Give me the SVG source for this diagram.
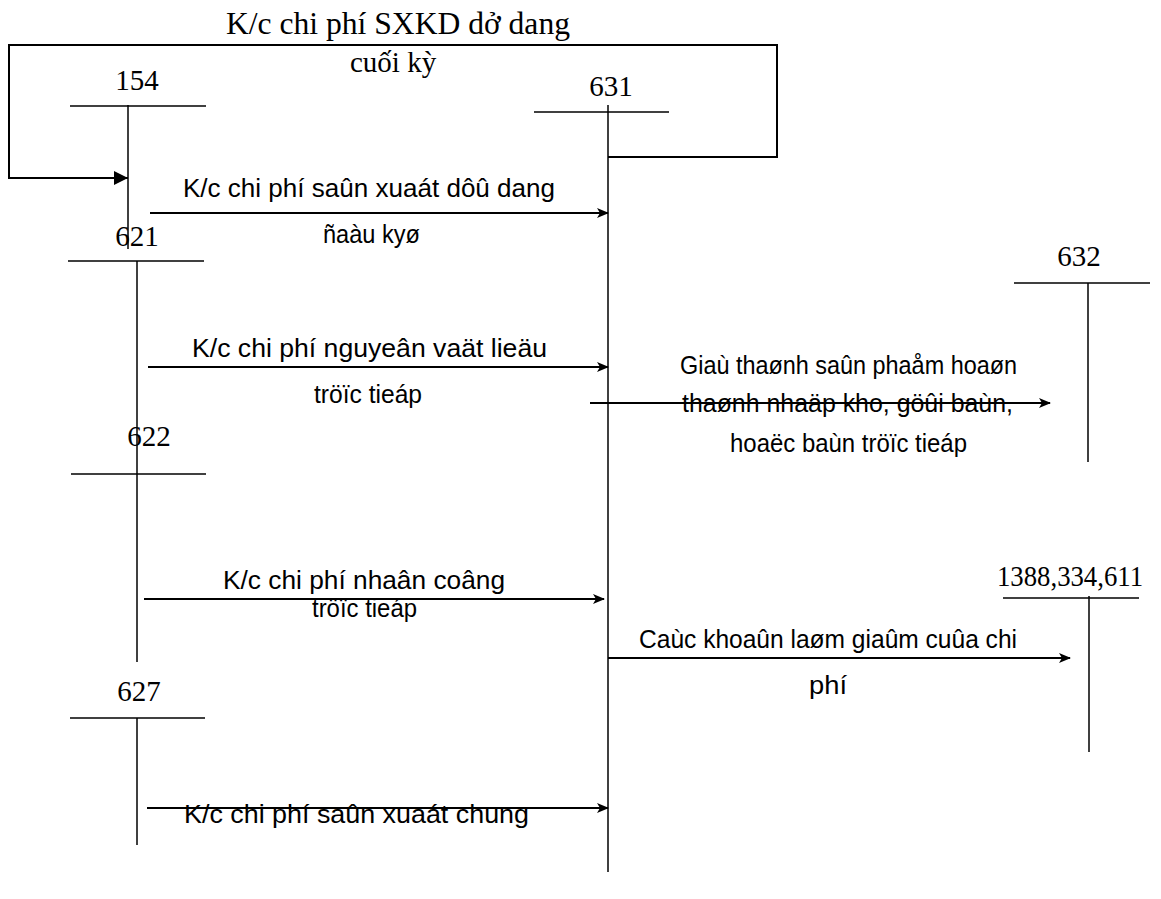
<svg xmlns="http://www.w3.org/2000/svg" width="1161" height="899" viewBox="0 0 1161 899">
<style>
.bg{fill:#fff}
.ln{stroke:#000;stroke-width:1.5;fill:none}
.ar{stroke:#000;stroke-width:2;fill:none;marker-end:url(#ah)}
.loop{stroke:#000;stroke-width:2;fill:none;marker-end:url(#ahs)}
.sf{font-family:"Liberation Serif","Times New Roman",serif;font-size:29px;fill:#000}
.ss{font-family:"Liberation Sans",Arial,sans-serif;font-size:25px;fill:#000}
</style>
<defs>
<marker id="ah" viewBox="0 0 12 10" refX="11" refY="5" markerWidth="12" markerHeight="10" markerUnits="userSpaceOnUse" orient="auto">
<path d="M0,0 L12,5 L0,10 L3,5 z" fill="#000"/>
</marker>
<marker id="ahs" viewBox="0 0 14 14" refX="14" refY="7" markerWidth="14" markerHeight="14" markerUnits="userSpaceOnUse" orient="auto">
<path d="M0,0 L14,7 L0,14 z" fill="#000"/>
</marker>
</defs>
<rect class="bg" x="0" y="0" width="1161" height="899"/>

<g id="acc154">
<text class="sf" x="137" y="90" text-anchor="middle">154</text>
<line class="ln" x1="70" y1="106" x2="206" y2="106"/>
<line class="ln" x1="128" y1="105" x2="128" y2="249"/>
</g>
<g id="acc631">
<text class="sf" x="611" y="96" text-anchor="middle">631</text>
<line class="ln" x1="534" y1="112" x2="669" y2="112"/>
<line class="ln" x1="608" y1="105" x2="608" y2="872"/>
</g>
<g id="acc621">
<text class="sf" x="137" y="246" text-anchor="middle">621</text>
<line class="ln" x1="68" y1="261" x2="204" y2="261"/>
<line class="ln" x1="137" y1="261" x2="137" y2="662"/>
</g>
<g id="acc622">
<text class="sf" x="149" y="446" text-anchor="middle">622</text>
<line class="ln" x1="71" y1="474" x2="206" y2="474"/>
</g>
<g id="acc627">
<text class="sf" x="139" y="701" text-anchor="middle">627</text>
<line class="ln" x1="70" y1="718" x2="205" y2="718"/>
<line class="ln" x1="137" y1="718" x2="137" y2="845"/>
</g>
<g id="acc632">
<text class="sf" x="1079" y="266" text-anchor="middle">632</text>
<line class="ln" x1="1014" y1="283" x2="1150" y2="283"/>
<line class="ln" x1="1088" y1="283" x2="1088" y2="462"/>
</g>
<g id="acc1388">
<text class="sf" x="1070" y="586" text-anchor="middle" textLength="146" lengthAdjust="spacingAndGlyphs">1388,334,611</text>
<line class="ln" x1="1003" y1="598" x2="1139" y2="598"/>
<line class="ln" x1="1089" y1="596" x2="1089" y2="752"/>
</g>

<g id="connectors">
<path class="loop" d="M608,157 H777 V45 H9 V178 H128"/>
<line class="ar" x1="150" y1="213" x2="608" y2="213"/>
<line class="ar" x1="148" y1="367" x2="608" y2="367"/>
<line class="ar" x1="144" y1="599" x2="604" y2="599"/>
<line class="ar" x1="147" y1="808" x2="608" y2="808"/>
<line class="ar" x1="590" y1="403" x2="1050" y2="403"/>
<line class="ar" x1="608" y1="658" x2="1070" y2="658"/>
</g>

<g id="labels">
<text class="sf" x="226" y="34" textLength="344" lengthAdjust="spacingAndGlyphs" style="font-size:31px">K/c chi phí SXKD dở dang</text>
<text class="sf" x="350" y="72">cuối kỳ</text>
<text class="ss" x="183" y="197" textLength="372" lengthAdjust="spacingAndGlyphs">K/c chi phí saûn xuaát dôû dang</text>
<text class="ss" x="323" y="243" textLength="97" lengthAdjust="spacingAndGlyphs">ñaàu kyø</text>
<text class="ss" x="192" y="357" textLength="355" lengthAdjust="spacingAndGlyphs">K/c chi phí nguyeân vaät lieäu</text>
<text class="ss" x="314" y="403" textLength="108" lengthAdjust="spacingAndGlyphs">tröïc tieáp</text>
<text class="ss" x="223" y="589" textLength="282" lengthAdjust="spacingAndGlyphs">K/c chi phí nhaân coâng</text>
<text class="ss" x="312" y="617" textLength="105" lengthAdjust="spacingAndGlyphs">tröïc tieáp</text>
<text class="ss" x="184" y="823" textLength="345" lengthAdjust="spacingAndGlyphs">K/c chi phí saûn xuaát chung</text>
<text class="ss" x="680" y="374" textLength="337" lengthAdjust="spacingAndGlyphs">Giaù thaønh saûn phaåm hoaøn</text>
<text class="ss" x="682" y="412" textLength="331" lengthAdjust="spacingAndGlyphs">thaønh  nhaäp kho, göûi baùn,</text>
<text class="ss" x="730" y="452" textLength="237" lengthAdjust="spacingAndGlyphs">hoaëc baùn tröïc tieáp</text>
<text class="ss" x="639" y="648" textLength="378" lengthAdjust="spacingAndGlyphs">Caùc khoaûn laøm giaûm cuûa chi</text>
<text class="ss" x="809" y="694" textLength="38" lengthAdjust="spacingAndGlyphs">phí</text>
</g>
</svg>
